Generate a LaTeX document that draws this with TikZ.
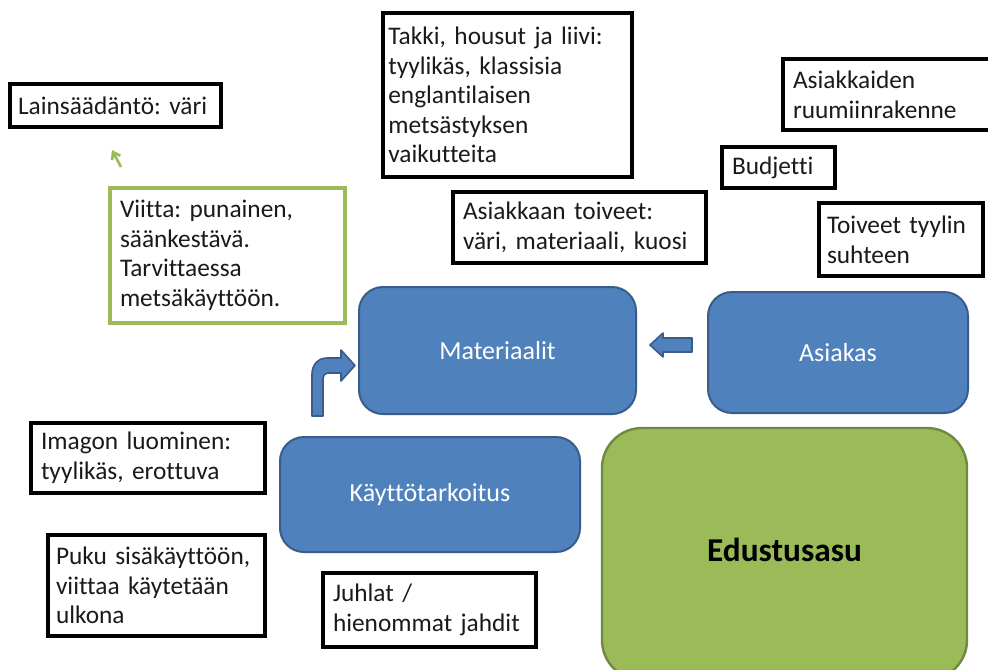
\documentclass[tikz,border=0pt]{standalone}
\usepackage{fontspec}
\setmainfont[Ligatures=NoCommon]{Carlito}
\usetikzlibrary{arrows.meta}
\definecolor{bfill}{HTML}{4F81BD}
\definecolor{bdraw}{HTML}{385D8A}
\definecolor{gfill}{HTML}{9BBB59}
\definecolor{gdraw}{HTML}{71893F}
\definecolor{txt}{HTML}{1A1A1A}
\begin{document}
\frenchspacing
\begin{tikzpicture}[x=0.75pt,y=-0.75pt,
  tbox/.style={draw=black, line width=2.5pt, fill=white, text=txt, align=left,
    inner xsep=7.5pt, inner ysep=2pt, font=\fontsize{19}{22.2}\selectfont},
  gbox/.style={tbox, draw=gfill},
  bluebox/.style={draw=bdraw, line width=1.5pt, fill=bfill, rounded corners=18pt,
    text=white, font=\fontsize{19.5}{23}\selectfont},
  greenbox/.style={draw=gdraw, line width=1.8pt, fill=gfill, rounded corners=30pt,
    text=black, font=\fontsize{25}{30}\selectfont\bfseries},
  blockarrow/.style={draw=bdraw, line width=1.2pt, fill=bfill, line join=round}]
\useasboundingbox (0,0) rectangle (988,669);
\clip (0,0) rectangle (988,669);
\fill[white] (0,0) rectangle (988,669);

% text boxes
\node[tbox, inner xsep=6pt, minimum width=158.25pt, minimum height=32.25pt, text width=146.25pt] (lain) at (115.5,105.5) {Lainsäädäntö: väri};
\node[gbox, minimum width=176.25pt, minimum height=101.25pt, text width=161.25pt] (viitta) at (227.5,255.5) {Viitta: punainen,\\ säänkestävä.\\ Tarvittaessa\\ metsäkäyttöön.};
\node[tbox, inner xsep=4pt, minimum width=186.75pt, minimum height=123pt, text width=178.75pt] (takki) at (507.5,95) {Takki, housut ja liivi:\\ tyylikäs, klassisia\\ englantilaisen\\ metsästyksen\\ vaikutteita};
\node[tbox, minimum width=189.75pt, minimum height=53.25pt, text width=174.75pt] (toiveet) at (579.5,227.5) {Asiakkaan toiveet:\\ väri, materiaali, kuosi};
\node[tbox, minimum width=166.5pt, minimum height=53.25pt, text width=151.5pt] (ruumis) at (894,94.5) {Asiakkaiden\\ ruumiinrakenne};
\node[tbox, minimum width=84.75pt, minimum height=30.75pt, text width=69.75pt] (budjetti) at (778.5,167.5) {Budjetti};
\node[tbox, inner xsep=6pt, minimum width=123pt, minimum height=54.75pt, text width=111pt] (tyyli) at (901,239.5) {Toiveet tyylin\\ suhteen};
\node[tbox, minimum width=175.5pt, minimum height=52.5pt, text width=160.5pt] (imago) at (148,458) {Imagon luominen:\\ tyylikäs, erottuva};
\node[tbox, inner xsep=6pt, minimum width=162.75pt, minimum height=75.75pt, text width=150.75pt] (puku) at (156.5,585.5) {Puku sisäkäyttöön,\\ viittaa käytetään\\ ulkona};
\node[tbox, minimum width=159.75pt, minimum height=55.5pt, text width=144.75pt] (juhlat) at (429.5,610) {Juhlat /\\ hienommat jahdit};

% main shapes
\node[bluebox, minimum width=207.75pt, minimum height=95.25pt] (mat) at (497.5,350.5) {Materiaalit};
\node[bluebox, minimum width=195pt, minimum height=90.75pt] (asiakas) at (838,352.5) {Asiakas};
\node[bluebox, minimum width=225pt, minimum height=86.25pt] (kaytto) at (430,494.5) {Käyttötarkoitus};
\node[greenbox, minimum width=273.75pt, minimum height=189pt] (edu) at (784.5,554) {};
\node[font=\fontsize{25}{30}\selectfont\bfseries, text=black] (edutext) at (784.5,550) {Edustusasu};

% block arrows
\draw[blockarrow] (692,338) -- (663,338) -- (663,333) -- (650,345) -- (663,357) -- (663,352) -- (692,352) -- cycle;
\draw[blockarrow] (312,416) -- (312,374) .. controls (312,365) and (318,358) .. (327,358)
  -- (341,358) -- (341,350) -- (355,365.5) -- (341,381) -- (341,373) -- (328,373)
  .. controls (325,373) and (323,375) .. (323,378) -- (323,416) -- cycle;

% small green arrow
\coordinate (ga1) at (121,167);
\coordinate (ga2) at (112,150);
\draw[gfill, line width=2pt, -{Straight Barb[length=5pt,width=7pt]}] (ga1) -- (ga2);
\end{tikzpicture}
\end{document}
